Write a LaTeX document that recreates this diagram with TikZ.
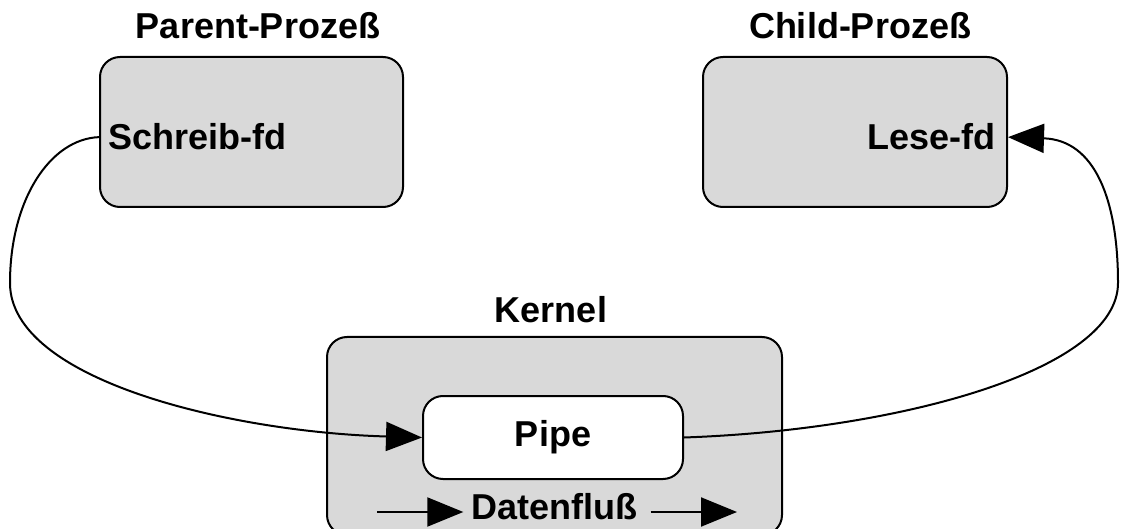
\documentclass[tikz,border=0pt]{standalone}
\usepackage{fontspec}
\setmainfont{Liberation Sans}
\usetikzlibrary{arrows.meta,calc}
\definecolor{boxgray}{RGB}{217,217,217}
\begin{document}
\begin{tikzpicture}[x=1pt,y=-1pt,
  box/.style={draw=black, line width=2pt, fill=boxgray, rounded corners=20pt, inner sep=0pt},
  lbl/.style={font=\fontsize{36}{43}\selectfont\bfseries, inner sep=0pt},
  conn/.style={line width=2pt, -{Triangle[length=36pt,width=29pt]}},
]
\useasboundingbox (0,0) rectangle (1122,529);
% boxes
\node[box, minimum width=303pt, minimum height=150pt] (parent) at (251.5,132) {};
\node[box, minimum width=304pt, minimum height=150pt] (child) at (855,132) {};
\node[box, minimum width=455pt, minimum height=198pt] (kernel) at (554.5,436) {};
\node[box, fill=white, minimum width=260pt, minimum height=83pt, font=\fontsize{36}{43}\selectfont\bfseries] (pipe) at (553,437.5) {Pipe};
% labels
\node[lbl, anchor=base] (ptitle) at (258,39) {Parent-Prozeß};
\node[lbl, anchor=base] (ctitle) at (860,39) {Child-Prozeß};
\node[lbl, anchor=base] (ktitle) at (551,323) {Kernel};
\node[lbl, anchor=base west] (schreib) at (108,150) {Schreib-fd};
\node[lbl, anchor=base east] (lese) at (996,150) {Lese-fd};
\node[lbl, anchor=base] (daten) at (554.5,519) {Datenfluß};
% connectors
\draw[conn] (parent.west |- schreib.west) .. controls (50,139) and (10,200) .. (10,283)
  .. controls (10,380) and (230,432) .. (pipe.west);
\draw[conn] (pipe.east) .. controls (900,430) and (1118,370) .. (1118,283)
  .. controls (1118,200) and (1095,140) .. (child.east |- lese.east);
% data flow arrows
\coordinate (d1) at (377,512);
\coordinate (d2) at (737,512);
\draw[conn, shorten >=8pt] (d1) -- (d1 -| daten.west);
\draw[conn, shorten <=13pt] (d2 -| daten.east) -- (d2);
\end{tikzpicture}
\end{document}
